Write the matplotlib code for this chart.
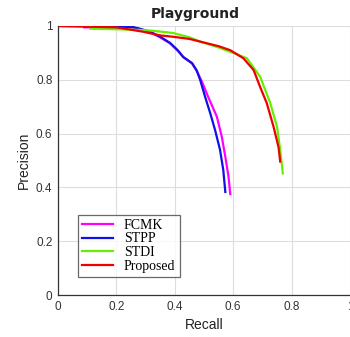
import matplotlib
matplotlib.use("Agg")
import matplotlib.pyplot as plt

methods = ["FCMK", "STPP", "STDI", "Proposed"]
colors = ["#ff00ff", "#1010e8", "#66ee00", "#ee0000"]

recall_fcmk = [0.09, 0.2, 0.257, 0.28, 0.315, 0.35, 0.384, 0.41, 0.429, 0.459, 0.475, 0.493, 0.514, 0.544, 0.561, 0.573, 0.584, 0.59]
prec_fcmk = [0.995, 0.996, 0.994, 0.988, 0.977, 0.958, 0.935, 0.908, 0.884, 0.861, 0.833, 0.793, 0.737, 0.663, 0.588, 0.514, 0.44, 0.375]

recall_stpp = [0.0, 0.10, 0.20, 0.257, 0.28, 0.315, 0.35, 0.384, 0.41, 0.429, 0.459, 0.475, 0.487, 0.504, 0.521, 0.538, 0.555, 0.566, 0.573]
prec_stpp = [1.0, 0.999, 0.998, 0.996, 0.99, 0.979, 0.96, 0.937, 0.91, 0.885, 0.862, 0.835, 0.799, 0.736, 0.677, 0.613, 0.539, 0.465, 0.383]

recall_stdi = [0.11, 0.2, 0.29, 0.327, 0.394, 0.45, 0.487, 0.55, 0.6, 0.647, 0.692, 0.727, 0.75, 0.761, 0.77]
prec_stdi = [0.99, 0.988, 0.985, 0.982, 0.974, 0.958, 0.942, 0.92, 0.9, 0.88, 0.812, 0.713, 0.626, 0.539, 0.452]

recall_prop = [0.0, 0.1, 0.2, 0.29, 0.35, 0.394, 0.45, 0.487, 0.55, 0.59, 0.635, 0.67, 0.692, 0.715, 0.738, 0.755, 0.761]
prec_prop = [1.0, 0.998, 0.995, 0.979, 0.965, 0.96, 0.952, 0.942, 0.925, 0.91, 0.88, 0.836, 0.774, 0.713, 0.626, 0.551, 0.496]

ticks = [0, 0.2, 0.4, 0.6, 0.8, 1]
tick_labels = ["0", "0.2", "0.4", "0.6", "0.8", "1"]

plt.rcParams['font.family'] = ['Liberation Sans', 'DejaVu Sans']

fig = plt.figure(figsize=(3.5, 3.37), dpi=100)
ax = fig.add_axes([58/350, 1-295/337, 292/350, 269/337])

series = [(recall_fcmk, prec_fcmk), (recall_stpp, prec_stpp), (recall_stdi, prec_stdi), (recall_prop, prec_prop)]
for (r, p), name, c in zip(series, methods, colors):
    ax.plot(r, p, color=c, lw=1.6, label=name, drawstyle="default")

ax.set_xlim(0, 1)
ax.set_ylim(0, 1)
ax.set_xticks(ticks)
ax.set_xticklabels(tick_labels)
ax.set_yticks(ticks)
ax.set_yticklabels(tick_labels)
ax.tick_params(labelsize=8.5, colors="#333333", length=0, pad=4)
ax.grid(True, color="#dddddd", lw=0.8)
ax.set_axisbelow(True)
for s in ["top", "right"]:
    ax.spines[s].set_visible(False)
for s in ["left", "bottom"]:
    ax.spines[s].set_color("#333333")
    ax.spines[s].set_linewidth(0.9)

ax.set_xlabel("Recall", fontsize=10, color="#222222", labelpad=4)
ax.set_ylabel("Precision", fontsize=10, color="#222222", labelpad=4)
fig.text(195/350, 1-14/337, "Playground", ha="center", va="center",
         fontsize=10, fontweight="bold", family=["DejaVu Sans"], color="#222222")

leg = ax.legend(loc="lower left", bbox_to_anchor=((78-58)/292, (295-277)/269),
                prop={"family": "Liberation Serif", "size": 10},
                frameon=True, fancybox=False, edgecolor="#444444",
                handlelength=2.2, handletextpad=0.8, labelspacing=0.05,
                borderpad=0.3, borderaxespad=0)
leg.get_frame().set_linewidth(0.9)

fig.savefig("out.png", dpi=100)
